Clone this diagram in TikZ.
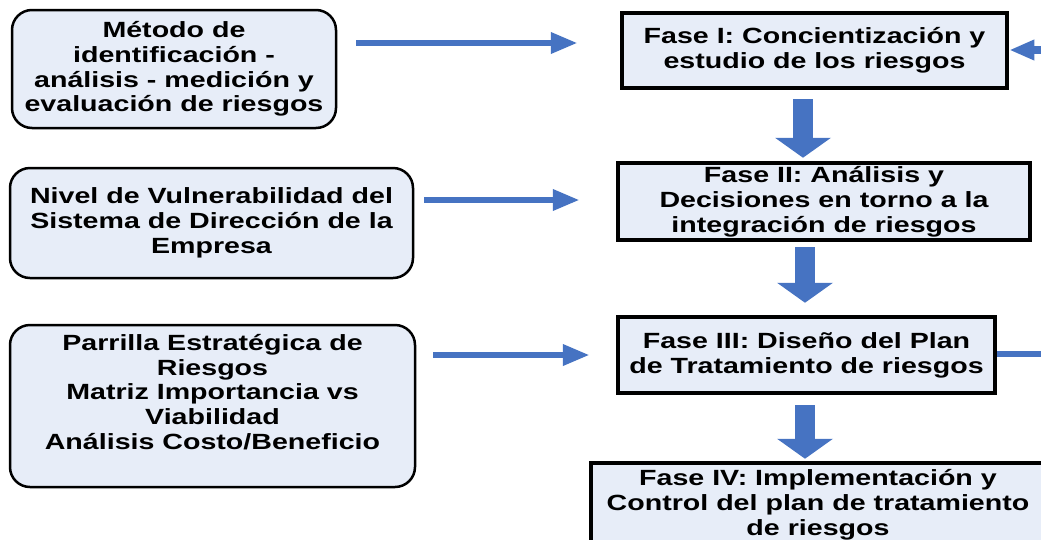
\documentclass[tikz,border=0pt]{standalone}
\usepackage{fontspec}
\setmainfont{Liberation Sans}[FakeStretch=1.3]
\usetikzlibrary{arrows.meta}
\definecolor{arrblue}{HTML}{4673C2}
\definecolor{boxfill}{HTML}{E7EDF8}
\tikzset{
  txt/.style={align=center, font=\bfseries\fontsize{22}{24.8}\selectfont, text=black, inner sep=2pt},
  leftbox/.style={txt, draw=black, line width=2.5pt, fill=boxfill, rounded corners=20pt},
  phase/.style={txt, draw=black, line width=4.5pt, fill=boxfill},
  harrow/.style={draw=arrblue, line width=6.5pt, -{Triangle[length=27pt,width=20pt]}},
  rarrow/.style={draw=arrblue, line width=8pt, -{Triangle[length=25pt,width=19pt]}},
  varrow/.style={draw=arrblue, line width=20pt, -{Triangle[length=20pt,width=55pt]}},
}
\begin{document}
\begin{tikzpicture}[x=1pt,y=-1pt]
\useasboundingbox (0,0) rectangle (1041,539);
\clip (0,0) rectangle (1041,539);

% left boxes
\node[leftbox, minimum width=324pt, minimum height=118pt] (l1) at (174,69)
  {Método de\\identificación -\\análisis - medición y\\evaluación de riesgos};
\node[leftbox, minimum width=403pt, minimum height=110pt] (l2) at (211.5,223)
  {Nivel de Vulnerabilidad del\\Sistema de Dirección de la\\Empresa};
\node[leftbox, minimum width=405pt, minimum height=162pt] (l3) at (212.5,406) {};
\node[txt] (l3t) at (212.5,392)
  {Parrilla Estratégica de\\Riesgos\\Matriz Importancia vs\\Viabilidad\\Análisis Costo/Beneficio};

% phase boxes
\node[phase, minimum width=385pt, minimum height=75pt] (f1) at (814.5,50.5)
  {Fase I: Concientización y\\estudio de los riesgos};
\node[phase, minimum width=412pt, minimum height=77pt] (f2) at (824,201.5)
  {Fase II: Análisis y\\Decisiones en torno a la\\integración de riesgos};
\node[phase, minimum width=377pt, minimum height=76pt] (f3) at (806.5,355)
  {Fase III: Diseño del Plan\\de Tratamiento de riesgos};
\node[phase, minimum width=454pt, minimum height=84pt] (f4) at (818,505)
  {Fase IV: Implementación y\\Control del plan de tratamiento\\de riesgos};

% helper coordinates
\coordinate (y1) at (0,43);
\coordinate (y2) at (0,200);
\coordinate (y3) at (0,355);
\coordinate (x1) at (803,0);
\coordinate (x2) at (805,0);
\coordinate (rin) at (1045,50);
\coordinate (rout) at (1045,354);

% horizontal arrows
\draw[harrow, shorten <=19pt, shorten >=42pt] (l1.east |- y1) -- (f1.west |- y1);
\draw[harrow, shorten <=10pt, shorten >=36pt] (l2.east |- y2) -- (f2.west |- y2);
\draw[harrow, shorten <=17pt, shorten >=26pt] (l3.east |- y3) -- (f3.west |- y3);

% right side arrows
\draw[rarrow] (rin) -- (f1.east |- rin);
\draw[draw=arrblue, line width=6.5pt] (f3.east |- rout) -- (rout);

% vertical block arrows
\draw[varrow, shorten <=9pt, shorten >=3pt] (f1.south -| x1) -- (f2.north -| x1);
\draw[varrow, shorten <=5pt, shorten >=12pt] (f2.south -| x2) -- (f3.north -| x2);
\draw[varrow, shorten <=10pt, shorten >=2pt] (f3.south -| x2) -- (f4.north -| x2);
\end{tikzpicture}
\end{document}
